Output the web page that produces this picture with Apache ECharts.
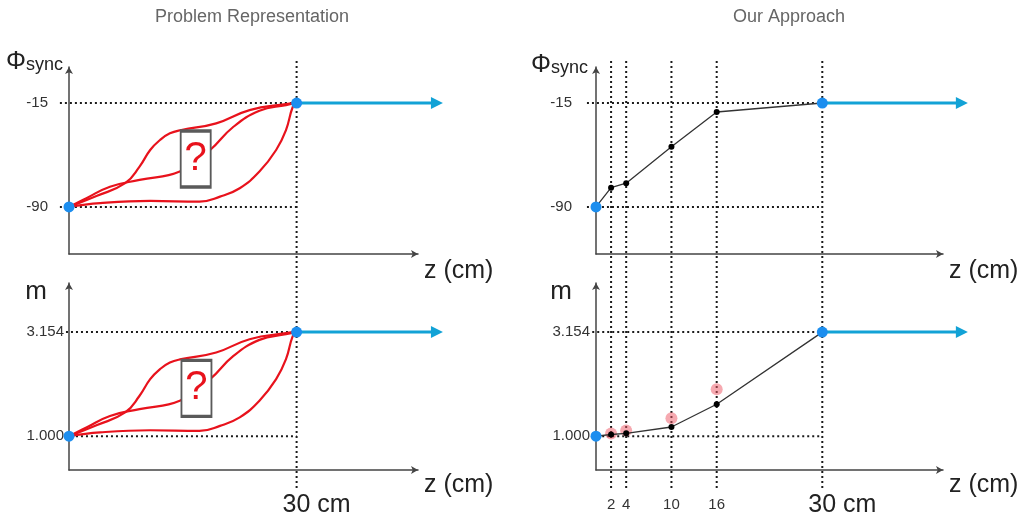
<!DOCTYPE html>
<html>
<head>
<meta charset="utf-8">
<script src="https://cdn.jsdelivr.net/npm/echarts@6/dist/echarts.min.js"></script>
<style>
  html, body { margin: 0; padding: 0; background: #fff; }
  #chart { width: 1030px; height: 520px; }
</style>
</head>
<body>
<div id="chart"></div>
<script>
// ---- values ----
const zEnd = 30;                 // cm, where the synchronous phase / mass are reached
const zArrowEnd = 48.5;          // extent of the constant part after zEnd
const phiStart = -90, phiEnd = -15;
const mStart = 1.000, mEnd = 3.154;
const zTicksLeft = [30];
const zTicksRight = [2, 4, 10, 16, 30];
const phiTicks = [-90, -15];
const mTicks = [1.000, 3.154];

// unknown candidate profiles (left)
const phiGuessUpper = [[0, -90], [3.7, -82], [7.4, -72.9], [9.3, -60.9], [10.7, -48.9], [12.0, -41.7], [13.3, -36.9], [14.8, -34.5], [19.4, -29.7], [23.8, -20.1], [28.6, -15.7], [30, -15]];
const phiGuessMiddle = [[0, -90], [2.3, -83.7], [5.4, -75.4], [9.3, -70.5], [14.6, -64.5], [18.6, -48.9], [21.6, -32.5], [25.1, -20.6], [28.6, -16.5], [30, -15]];
const phiGuessLower = [[0, -90], [4.1, -87.3], [10.7, -85.7], [17.2, -86.2], [19.9, -82.6], [22.5, -76.5], [25.1, -64.5], [27.3, -48.9], [28.6, -34.5], [29.5, -17.7], [30, -15]];
const mGuessUpper = [[0, 1.000], [3.7, 1.230], [7.4, 1.491], [9.3, 1.836], [10.7, 2.180], [12.0, 2.387], [13.3, 2.525], [14.8, 2.594], [19.4, 2.732], [23.8, 3.007], [28.6, 3.134], [30, 3.154]];
const mGuessMiddle = [[0, 1.000], [2.3, 1.181], [5.4, 1.419], [9.3, 1.560], [14.6, 1.732], [18.6, 2.180], [21.6, 2.651], [25.1, 2.993], [28.6, 3.111], [30, 3.154]];
const mGuessLower = [[0, 1.000], [4.1, 1.078], [10.7, 1.123], [17.2, 1.109], [19.9, 1.213], [22.5, 1.388], [25.1, 1.732], [27.3, 2.180], [28.6, 2.594], [29.5, 3.077], [30, 3.154]];
const phiQuestion = [16.7, -55.4];
const mQuestion = [16.8, 1.99];

// stepwise profiles (right)
const phiSteps = [[0, -90], [2, -76.1], [4, -72.9], [10, -46.5], [16, -21.5], [30, -15]];
const mSteps = [[0, 1.000], [2, 1.035], [4, 1.06], [10, 1.19], [16, 1.66], [30, 3.154]];
const mRaw = [[2, 1.056], [4, 1.12], [10, 1.37], [16, 1.97]];

// ---- styles / layout ----
const FONT = '"Liberation Sans", Arial, Helvetica, sans-serif';
const AXIS_COLOR = '#444';
const DOT = { color: '#1b1b1b', width: 2, type: [2, 3] };
const RED = '#e8121c';
const BLUE_DOT = '#1c8eef';
const BLUE_LINE = '#12a2d6';

const Z_MAX = 46;                 // visible axis extent
const Z_LO = -2, Z_HI = 50;       // drawing extent of the data layers
const PHI_RANGE = [-124, 11];
const M_RANGE = [0.3, 4.17];

const panels = [
  { left: 69, top: 67, width: 349, height: 187 },   // phi, left
  { left: 69, top: 283, width: 349, height: 187 },  // m, left
  { left: 596, top: 67, width: 347, height: 187 },  // phi, right
  { left: 596, top: 283, width: 347, height: 187 }  // m, right
];
// wider twin of a panel so marks may run past the axis ends
function dataGrid(p) {
  const k = p.width / Z_MAX;
  return { left: p.left + Z_LO * k, top: p.top, width: (Z_HI - Z_LO) * k, height: p.height };
}
const grids = panels.concat([
  { left: 69, top: 58, width: 349, height: 430 },
  { left: 596, top: 58, width: 347, height: 430 }
]).concat(panels.map(dataGrid));

const chart = echarts.init(document.getElementById('chart'), null, { renderer: 'canvas' });

function xAxisFor(gi, ticks, top) {
  return {
    gridIndex: gi, type: 'value', min: 0, max: Z_MAX,
    axisLine: { onZero: false, lineStyle: { color: AXIS_COLOR, width: 1.5 }, symbol: ['none', 'arrow'], symbolSize: [6, 7] },
    axisTick: { show: false },
    splitLine: { show: false },
    name: 'z (cm)', nameLocation: 'end', nameGap: 6, nameMoveOverlap: false,
    nameTextStyle: { fontFamily: FONT, fontSize: 25, color: '#222', align: 'left', verticalAlign: 'top', padding: [top ? 5 : 3, 0, 0, 0] },
    axisLabel: ticks ? {
      show: true, customValues: ticks, margin: 21, fontFamily: FONT,
      formatter: v => v === zEnd ? '{pad|}{big|' + v + ' cm}' : '{small|' + v + '}',
      rich: {
        pad: { width: 40, height: 28 },
        big: { fontSize: 25, lineHeight: 28, color: '#222', fontFamily: FONT },
        small: { fontSize: 15, lineHeight: 28, color: '#333', fontFamily: FONT }
      }
    } : { show: false }
  };
}

function yAxisFor(gi, range, ticks, margin, name, nameGap, namePad) {
  return {
    gridIndex: gi, type: 'value', min: range[0], max: range[1],
    axisLine: { onZero: false, lineStyle: { color: AXIS_COLOR, width: 1.5 }, symbol: ['none', 'arrow'], symbolSize: [6, 7] },
    axisTick: { show: false },
    splitLine: { show: false },
    axisLabel: { customValues: ticks, margin: margin, fontFamily: FONT, fontSize: 15, color: '#333',
      formatter: v => (v > 0 && v < 10) ? v.toFixed(3) : String(v) },
    name: name, nameLocation: 'end', nameGap: nameGap, nameMoveOverlap: false,
    nameTextStyle: {
      align: 'right', verticalAlign: 'middle', padding: [0, namePad, 0, 0], fontFamily: FONT,
      rich: {
        phi: { fontSize: 25, color: '#222', fontFamily: FONT },
        sub: { fontSize: 18, color: '#222', fontFamily: FONT, padding: [6, 0, 0, 0] },
        m: { fontSize: 26, color: '#222', fontFamily: FONT }
      }
    }
  };
}

const phiName = '{phi|Φ}{sub|sync}';
const hiddenX = (gi, min, max) => ({ gridIndex: gi, type: 'value', min: min, max: max, show: false });
const hiddenY = (gi, range) => ({ gridIndex: gi, type: 'value', min: range[0], max: range[1], show: false });

const xAxes = [
  xAxisFor(0, null, true), xAxisFor(1, zTicksLeft, false),
  xAxisFor(2, null, true), xAxisFor(3, zTicksRight, false),
  hiddenX(4, 0, Z_MAX), hiddenX(5, 0, Z_MAX),
  hiddenX(6, Z_LO, Z_HI), hiddenX(7, Z_LO, Z_HI), hiddenX(8, Z_LO, Z_HI), hiddenX(9, Z_LO, Z_HI)
];
const yAxes = [
  yAxisFor(0, PHI_RANGE, phiTicks, 21, phiName, 5, 6),
  yAxisFor(1, M_RANGE, mTicks, 5, '{m|m}', -9, 22),
  yAxisFor(2, PHI_RANGE, phiTicks, 24, phiName, 2, 8),
  yAxisFor(3, M_RANGE, mTicks, 6, '{m|m}', -9, 24),
  hiddenY(4, [0, 1]), hiddenY(5, [0, 1]),
  hiddenY(6, PHI_RANGE), hiddenY(7, M_RANGE), hiddenY(8, PHI_RANGE), hiddenY(9, M_RANGE)
];

// data layer axis indices
const PHI_L = 6, M_L = 7, PHI_R = 8, M_R = 9;

const series = [];
function idx(i) { return { xAxisIndex: i, yAxisIndex: i }; }

// dotted guides
function hGuide(i, y, x0) {
  series.push(Object.assign({ type: 'line', data: [[x0, y], [zEnd, y]], symbol: 'none', silent: true, z: 1,
    lineStyle: DOT }, idx(i)));
}
function vGuide(i, x) {
  series.push(Object.assign({ type: 'line', data: [[x, 0], [x, 1]], symbol: 'none', silent: true, z: 1,
    lineStyle: DOT }, idx(i)));
}
hGuide(PHI_L, phiEnd, -1.2); hGuide(PHI_L, phiStart, -1.2);
hGuide(M_L, mEnd, -0.4); hGuide(M_L, mStart, -0.4);
hGuide(PHI_R, phiEnd, -1.2); hGuide(PHI_R, phiStart, -1.2);
hGuide(M_R, mEnd, -0.5); hGuide(M_R, mStart, -0.5);
zTicksLeft.forEach(x => vGuide(4, x));
zTicksRight.forEach(x => vGuide(5, x));

// hand-drawn candidate profiles
function redCurve(i, pts) {
  series.push(Object.assign({ type: 'line', data: pts, symbol: 'none', smooth: 0.45, silent: true, z: 2,
    lineStyle: { color: RED, width: 2.2 } }, idx(i)));
}
[phiGuessUpper, phiGuessMiddle, phiGuessLower].forEach(p => redCurve(PHI_L, p));
[mGuessUpper, mGuessMiddle, mGuessLower].forEach(p => redCurve(M_L, p));

function questionBox(i, pos) {
  series.push(Object.assign({ type: 'scatter', data: [pos], symbol: 'rect', symbolSize: [30, 56], z: 3, silent: true,
    itemStyle: { color: '#fff', borderColor: '#5a5a5a', borderWidth: 2.5, opacity: 1 },
    label: { show: true, position: 'inside', formatter: '?', color: RED, fontSize: 40, fontFamily: FONT,
      opacity: 1, textBorderWidth: 0, textShadowBlur: 0 } }, idx(i)));
}
questionBox(PHI_L, phiQuestion);
questionBox(M_L, mQuestion);

// measured stepwise profiles
series.push(Object.assign({ type: 'scatter', data: mRaw, symbol: 'circle', symbolSize: 12, z: 2, silent: true,
  itemStyle: { color: 'rgba(238, 84, 98, 0.5)', opacity: 1 } }, idx(M_R)));
[[PHI_R, phiSteps], [M_R, mSteps]].forEach(([i, pts]) => {
  series.push(Object.assign({ type: 'line', data: pts, symbol: 'circle', symbolSize: 6, z: 3, silent: true,
    lineStyle: { color: '#333', width: 1.3 }, itemStyle: { color: '#000' } }, idx(i)));
});

// fixed end points and the constant continuation
function endPoints(i, y0, y1) {
  series.push(Object.assign({ type: 'line', symbol: 'none', z: 4, silent: true,
    lineStyle: { color: BLUE_LINE, width: 3 },
    data: [[zEnd, y1], { value: [zArrowEnd, y1], symbol: 'triangle', symbolSize: [12, 12], symbolRotate: -90, itemStyle: { color: BLUE_LINE } }]
  }, idx(i)));
  series.push(Object.assign({ type: 'scatter', data: [[0, y0], [zEnd, y1]], symbol: 'circle', symbolSize: 11, z: 5, silent: true,
    itemStyle: { color: BLUE_DOT, opacity: 1 } }, idx(i)));
}
endPoints(PHI_L, phiStart, phiEnd);
endPoints(M_L, mStart, mEnd);
endPoints(PHI_R, phiStart, phiEnd);
endPoints(M_R, mStart, mEnd);

chart.setOption({
  animation: false,
  backgroundColor: '#fff',
  grid: grids,
  xAxis: xAxes,
  yAxis: yAxes,
  series: series,
  graphic: [
    { type: 'text', x: 252, y: 17, style: { text: 'Problem Representation', fontSize: 18, fontFamily: FONT, fill: '#666', align: 'center', verticalAlign: 'middle' } },
    { type: 'text', x: 789, y: 17, style: { text: 'Our Approach', fontSize: 18, fontFamily: FONT, fill: '#666', align: 'center', verticalAlign: 'middle' } }
  ]
});
</script>
</body>
</html>
